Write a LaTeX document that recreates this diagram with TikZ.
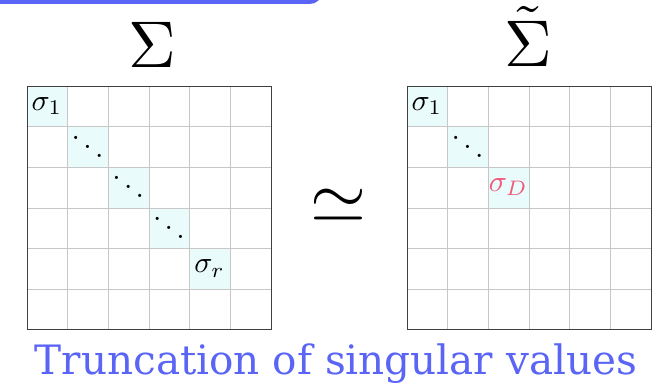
\RequirePackage{fix-cm}
\documentclass[tikz,border=0pt]{standalone}
\usepackage{amsmath,amssymb}
\usepackage{xcolor}
\usepackage[no-math]{fontspec}
\newfontfamily\capfont{DejaVu Serif}
\usetikzlibrary{positioning,calc}
\definecolor{accent}{HTML}{5A64F5}
\definecolor{hlcell}{HTML}{E9FBFB}
\definecolor{cutval}{HTML}{F0587A}
\newcommand{\cellsz}{40.667}

\begin{document}
\begin{tikzpicture}[x=1pt, y=1pt,
  mat/.style   ={draw=black!75, line width=0.9pt, minimum width=244pt,
                 minimum height=243pt, inner sep=0pt},
  gridln/.style={draw=black!22, line width=0.6pt},
  ent/.style   ={scale=3, inner sep=0pt},
  dts/.style   ={ent, anchor=base},
  ttl/.style   ={scale=6.6, inner sep=0pt, anchor=base},
  captxt/.style={text=accent, font=\capfont\fontsize{40.5}{48}\selectfont, inner sep=0pt,
                 anchor=base}]

\useasboundingbox (0,0) rectangle (659,384);

% header tab cut by the top edge
\begin{scope}
  \clip (0,0) rectangle (659,384);
  \fill[accent, rounded corners=12pt] (-20,380) rectangle (322,420);
\end{scope}

% highlighted diagonal cells
\foreach \gx/\nd in {27/4, 407/2}
  \foreach \i in {0,...,\nd}
    \fill[hlcell] (\gx+\i*\cellsz, 298-\i*\cellsz) rectangle ++(\cellsz,-\cellsz);

% grid lines
\foreach \gx in {27, 407}
  \foreach \k in {1,...,5} {
    \draw[gridln] (\gx+\k*\cellsz,55) -- (\gx+\k*\cellsz,298);
    \draw[gridln] (\gx,298-\k*\cellsz) -- (\gx+244,298-\k*\cellsz);
  }

\node[mat] (matL) at (149,176.5) {};
\node[mat] (matR) at (529,176.5) {};

% entries of Sigma
\node[ent] (L1) at ($(matL.north west)+(0.5*\cellsz,-0.5*\cellsz)$) {$\sigma_1$};
\foreach \i in {1,2,3}
  \node[dts] (Ld\i) at ($(matL.north west)+(\i*\cellsz+0.5*\cellsz,-\i*\cellsz-0.5*\cellsz-13.6)$) {$\ddots$};
\node[ent] (Lr) at ($(matL.north west)+(4.5*\cellsz,-4.5*\cellsz)$) {$\sigma_r$};

% entries of the truncated Sigma
\node[ent] (R1) at ($(matR.north west)+(0.5*\cellsz,-0.5*\cellsz)$) {$\sigma_1$};
\node[dts] (Rd1) at ($(matR.north west)+(1.5*\cellsz,-1.5*\cellsz-13.6)$) {$\ddots$};
\node[ent, text=cutval] (RD) at ($(matR.north west)+(2.5*\cellsz,-2.5*\cellsz)$) {$\sigma_{D}$};

% titles
\node[ttl] (sig)  at (152,316) {$\Sigma$};
\node[ttl] (sigt) at (528,317) {$\tilde{\Sigma}$};
\node[scale=7.2, inner sep=0pt] (approx) at (338,178.5) {$\simeq$};

\node[captxt] (trunc) at (336,10) {Truncation of singular values};
\end{tikzpicture}
\end{document}
